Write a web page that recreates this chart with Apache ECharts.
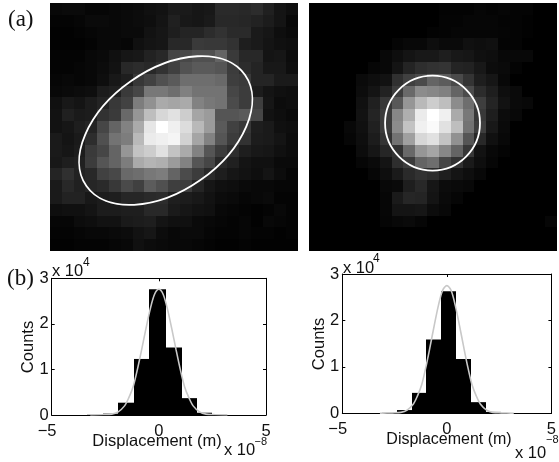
<!DOCTYPE html>
<html><head><meta charset="utf-8">
<style>html,body{margin:0;padding:0;background:#fff}#c{width:559px;height:462px}</style>
<script src="https://cdn.jsdelivr.net/npm/echarts@6/dist/echarts.min.js"></script>
</head><body><div id="c"></div>
<script>
const heatLeft = [
[8,10,10,6,6,8,10,12,16,18,26,26,22,24,42,42,40,44,32,20,14],
[4,4,6,10,10,8,10,12,14,20,32,24,22,26,40,40,38,34,28,20,8],
[2,2,4,6,8,8,10,10,18,22,30,36,36,44,50,42,42,26,22,14,10],
[2,2,2,4,8,8,6,16,20,22,40,40,58,56,56,50,30,26,20,16,14],
[4,4,4,8,10,16,22,24,34,40,68,72,80,80,100,58,40,40,20,22,12],
[4,4,6,8,12,18,40,44,40,50,64,82,90,90,85,60,44,36,24,24,14],
[6,8,6,8,14,24,30,55,65,80,90,110,110,110,105,62,58,36,36,26,26],
[8,10,12,14,28,32,58,70,120,120,110,128,115,115,115,70,60,28,20,16,14],
[16,24,20,28,36,56,66,125,145,170,165,170,130,120,115,75,60,62,22,12,14],
[18,32,26,28,50,58,105,150,190,215,225,205,165,155,85,85,90,70,18,14,10],
[18,22,30,36,70,100,130,170,230,255,240,220,185,155,90,65,55,30,26,16,14],
[26,20,26,45,80,115,125,185,235,240,245,210,165,130,85,60,50,28,26,20,12],
[26,22,28,58,70,100,150,195,205,225,195,170,130,85,60,45,30,24,22,16,12],
[24,30,32,60,85,100,125,170,180,175,155,130,85,70,40,32,20,16,16,10,10],
[36,48,34,40,65,72,105,110,120,125,100,75,60,42,30,22,18,14,20,12,6],
[26,40,32,38,42,56,74,64,92,80,62,60,36,22,16,14,10,8,8,6,6],
[26,34,34,24,28,30,38,38,42,44,30,28,24,18,12,10,6,8,10,4,4],
[14,16,16,20,28,28,30,30,40,40,26,22,18,16,8,6,4,2,4,8,4],
[6,6,12,14,18,18,26,28,30,20,16,16,10,8,6,4,6,2,8,6,4],
[4,4,6,8,8,10,12,18,22,12,8,10,10,6,4,4,6,4,4,2,4],
[2,2,4,4,4,6,8,16,12,10,8,8,6,4,2,2,4,2,2,2,2]
];
const heatRight = [
[0,0,0,0,0,0,0,0,0,0,0,3,3,3,6,4,6,4,4,0,0],
[0,0,0,0,0,0,0,0,0,0,0,4,4,6,6,6,4,4,2,0,0],
[0,0,0,0,0,0,0,0,0,0,3,4,6,6,6,6,5,4,2,0,0],
[0,0,0,0,0,0,0,5,8,8,14,10,10,16,14,16,4,4,0,0,0],
[0,0,0,0,0,0,8,14,20,24,24,30,24,22,16,14,8,8,8,0,0],
[0,0,0,0,0,6,8,20,36,46,50,52,36,34,24,12,10,4,0,0,0],
[0,0,0,0,10,14,18,48,64,74,100,92,74,52,30,22,8,0,0,0,0],
[0,0,0,0,12,20,34,60,105,140,135,128,100,75,44,30,14,10,0,0,0],
[0,0,0,0,16,32,55,88,150,185,205,190,140,110,62,36,18,10,8,0,0],
[0,0,0,0,18,36,60,135,175,235,255,240,170,120,56,30,12,8,0,0,0],
[0,0,0,8,16,32,60,140,195,240,250,225,190,115,62,24,10,0,0,0,0],
[0,0,0,6,14,28,52,115,160,215,225,195,145,85,40,16,8,0,0,0,0],
[0,0,0,0,12,22,38,50,105,150,165,135,100,55,18,8,4,0,0,0,0],
[0,0,0,0,6,10,20,46,60,100,110,70,50,26,14,6,0,0,0,0,0],
[0,0,0,0,0,6,14,26,42,50,44,30,20,14,8,0,0,0,0,0,0],
[0,0,0,0,0,0,8,10,30,40,22,12,10,8,0,0,0,0,0,0,0],
[0,0,0,0,0,0,6,26,38,36,20,10,6,0,0,0,0,0,0,0,0],
[0,0,0,0,0,0,6,20,20,22,12,8,0,0,0,0,0,0,0,0,0],
[0,0,0,0,0,0,5,8,10,6,0,0,0,0,0,0,0,0,0,0,6],
[0,0,0,0,0,0,0,0,0,0,0,0,0,0,0,0,0,0,0,0,0],
[0,0,0,0,0,0,0,0,0,0,0,0,0,0,0,0,0,0,0,0,0]
];
// ellipse overlays in cell units (row axis runs downward): centre x, centre y, semi-axes, tilt in degrees
const ellipseLeft = [9.8, 10.8, 8.2, 5.12, 35];
const ellipseRight = [10.46, 10.17, 4.02, 4.02, 0];
// histogram bins: start, end, counts (x 10^4), x in units of 10^-8 m
const binsLeft = [[-3.33,-2.61,0.005],[-2.61,-1.89,0.03],[-1.89,-1.17,0.27],[-1.17,-0.46,1.23],[-0.46,0.32,2.76],[0.32,1.07,1.48],[1.07,1.78,0.37],[1.78,2.5,0.05],[2.5,3.2,0.005]];
const binsRight = [[-3.1,-2.38,0.01],[-2.38,-1.68,0.07],[-1.68,-0.99,0.44],[-0.99,-0.28,1.59],[-0.28,0.46,2.63],[0.46,1.17,1.17],[1.17,1.87,0.24],[1.87,2.6,0.03]];
const fitX = [-3.2,-2.6,-2.2,-1.9,-1.6,-1.4,-1.2,-1.0,-0.8,-0.6,-0.4,-0.2,0,0.2,0.4,0.6,0.8,1.0,1.2,1.4,1.6,1.9,2.2,2.6,3.2];
const fitLeft = [0,0.01,0.02,0.07,0.2,0.38,0.62,1.0,1.44,1.9,2.33,2.65,2.76,2.65,2.33,1.9,1.44,1.0,0.62,0.38,0.2,0.07,0.02,0.01,0];
const fitRight = [0,0.01,0.02,0.07,0.2,0.38,0.62,1.0,1.44,1.9,2.33,2.65,2.75,2.65,2.33,1.9,1.44,1.0,0.62,0.38,0.2,0.07,0.02,0.01,0];
const xTickLabels = ['\u22125\u00A0\u00A0','0','5'];
const yTickLabels = ['0','1','2','3'];

const SANS = '"Liberation Sans", Arial, sans-serif';
const SERIF = '"Liberation Serif", "Times New Roman", serif';
const grids = [
  {left:50, top:3, width:248, height:248},
  {left:309, top:3, width:248, height:248},
  {left:51.7, top:278.3, width:214.3, height:136.7},
  {left:342.3, top:274, width:216, height:139.3}
];
const FS = 16.5;
const hiddenX = g => ({type:'value', gridIndex:g, min:0, max:21, show:false});
const hiddenY = g => ({type:'value', gridIndex:g, min:0, max:21, show:false, inverse:true});
const frame = {show:true, onZero:false, lineStyle:{color:'#000', width:1}};
const histX = (g, top) => ({type:'value', gridIndex:g, min:-5, max:5, interval:5, position:top?'top':'bottom',
  axisLine:frame, axisTick:{show:true, inside:true, length:3, lineStyle:{color:'#000', width:1}}, splitLine:{show:false},
  axisLabel:top?{show:false}:{show:true, margin:8, fontSize:FS, fontFamily:SANS, color:'#111', showMinLabel:true, showMaxLabel:true, hideOverlap:false, formatter:(v,i)=>xTickLabels[i]}});
const histY = (g, right) => ({type:'value', gridIndex:g, min:0, max:3, interval:1, position:right?'right':'left',
  axisLine:frame, axisTick:{show:true, inside:true, length:3, lineStyle:{color:'#000', width:1}}, splitLine:{show:false},
  axisLabel:right?{show:false}:{show:true, margin:3, fontSize:FS, fontFamily:SANS, color:'#111', showMinLabel:true, showMaxLabel:true, hideOverlap:false, formatter:(v,i)=>yTickLabels[i]}});

const cells = m => m.flatMap((row, r) => row.map((v, c) => [c, r, v]));
const heat = (m, ax) => ({type:'custom', xAxisIndex:ax, yAxisIndex:ax, data:cells(m), silent:true, z:1,
  encode:{x:0, y:1},
  renderItem:(p, api) => {
    const c = api.value(0), r = api.value(1), v = api.value(2);
    const a = api.coord([c, r]), b = api.coord([c + 1, r + 1]);
    const x0 = Math.round(a[0]), y0 = Math.round(a[1]);
    return {type:'rect', shape:{x:x0, y:y0, width:Math.round(b[0])-x0, height:Math.round(b[1])-y0},
      style:{fill:'rgb('+v+','+v+','+v+')'}};
  }});
const ellipse = (e, ax) => ({type:'custom', xAxisIndex:ax, yAxisIndex:ax, data:[e], silent:true, z:5, clip:false,
  encode:{x:0, y:1},
  renderItem:(p, api) => {
    const c = api.coord([api.value(0), api.value(1)]);
    const s = api.size([1, 1]);
    return {type:'ellipse', x:c[0], y:c[1], rotation:api.value(4)*Math.PI/180,
      shape:{cx:0, cy:0, rx:api.value(2)*Math.abs(s[0]), ry:api.value(3)*Math.abs(s[1])},
      style:{fill:'none', stroke:'#fff', lineWidth:1.8}};
  }});
const bars = (b, ax) => ({type:'custom', xAxisIndex:ax, yAxisIndex:ax, data:b, silent:true, z:3,
  encode:{x:[0,1], y:2},
  renderItem:(p, api) => {
    const a = api.coord([api.value(0), api.value(2)]);
    const o = api.coord([api.value(1), 0]);
    const x0 = Math.round(a[0]);
    return {type:'rect', shape:{x:x0, y:a[1], width:Math.round(o[0])-x0, height:o[1]-a[1]}, style:{fill:'#000'}};
  }});
const fit = (ys, ax) => ({type:'line', xAxisIndex:ax, yAxisIndex:ax, data:fitX.map((x,i)=>[x,ys[i]]), showSymbol:false, symbol:'none', smooth:0.3, silent:true, z:4,
  lineStyle:{color:'#c8c8c8', width:1.6}});

const t = (x, y, text, o={}) => ({type:'text', x, y, silent:true, z:20,
  style:{text, fill:'#111', font:(o.size||FS)+'px '+(o.family||SANS), textAlign:o.align||'left', textVerticalAlign:'middle'}});
const vt = (x, y, text) => ({type:'text', x, y, rotation:Math.PI/2, silent:true, z:20,
  style:{text, fill:'#111', font:FS+'px '+SANS, textAlign:'center', textVerticalAlign:'middle'}});

const chart = echarts.init(document.getElementById('c'), null, {renderer:'canvas'});
chart.setOption({
  animation:false, backgroundColor:'#fff',
  grid:grids,
  xAxis:[hiddenX(0), hiddenX(1), histX(2), histX(2,true), histX(3), histX(3,true)],
  yAxis:[hiddenY(0), hiddenY(1), histY(2), histY(2,true), histY(3), histY(3,true)],
  series:[heat(heatLeft,0), heat(heatRight,1), ellipse(ellipseLeft,0), ellipse(ellipseRight,1),
    bars(binsLeft,2), fit(fitLeft,2), bars(binsRight,4), fit(fitRight,4)],
  graphic:[
    t(8,20,'(a)',{size:23,family:SERIF}), t(7,279,'(b)',{size:23,family:SERIF}),
    t(52,271,'x 10'), t(83,263,'4',{size:12}),
    t(343,268,'x 10'), t(373,259,'4',{size:12}),
    t(157,441,'Displacement (m)',{align:'center'}), t(449,440,'Displacement (m)',{size:16,align:'center'}),
    t(224,450,'x 10'), t(254.5,442,'\u22128',{size:11}),
    t(515,453,'x 10'), t(546,440,'\u22128',{size:11}),
    vt(28,347,'Counts'), vt(319,344,'Counts')
  ]
});
</script></body></html>
